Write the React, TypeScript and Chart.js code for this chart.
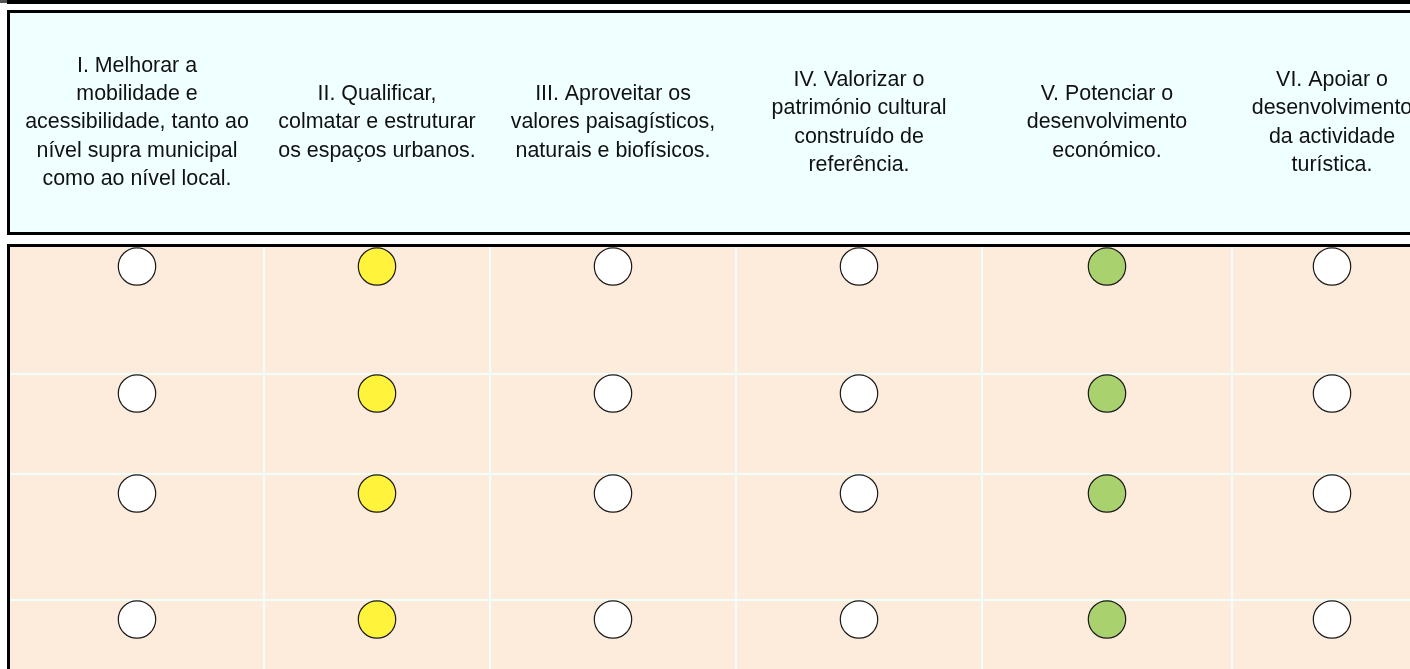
import React, { useEffect, useRef } from 'react';
import { Chart, registerables } from 'chart.js';

Chart.register(...registerables);

// ---------- DATA ----------
// Column categories (strategic objectives), one array of lines per header
const OBJECTIVES: string[][] = [
  ['I. Melhorar a', 'mobilidade e', 'acessibilidade, tanto ao', 'nível supra municipal', 'como ao nível local.'],
  ['II. Qualificar,', 'colmatar e estruturar', 'os espaços urbanos.'],
  ['III. Aproveitar os', 'valores paisagísticos,', 'naturais e biofísicos.'],
  ['IV. Valorizar o', 'património cultural', 'construído de', 'referência.'],
  ['V. Potenciar o', 'desenvolvimento', 'económico.'],
  ['VI. Apoiar o', 'desenvolvimento', 'da actividade', 'turística.'],
];

// Relationship level of each row with each objective (0 = none, 1 = medium, 2 = strong)
const ROW_1 = [0, 1, 0, 0, 2, 0];
const ROW_2 = [0, 1, 0, 0, 2, 0];
const ROW_3 = [0, 1, 0, 0, 2, 0];
const ROW_4 = [0, 1, 0, 0, 2, 0];
const ROWS = [ROW_1, ROW_2, ROW_3, ROW_4];

const LEVEL_NAMES = ['Sem relação', 'Relação média', 'Relação forte'];

// ---------- LAYOUT / STYLE ----------
const COL_WIDTHS = [254, 226, 246, 246, 250, 200];
const ROW_HEIGHTS = [127, 100, 126, 126];
const MARK_OFFSET = 19.5;
const LEVEL_COLORS = ['#FFFFFF', '#FFF33B', '#A9D16E'];
const HEADER_BG = '#F0FFFF';
const BODY_BG = '#FDEBDB';
const GRID_COLOR = '#F0FFFA';
const W = 1410;
const H = 669;
const BODY_TOP = 247;
const LEFT = 10;

const colBounds: number[] = [];
const colCenters: number[] = [];
{
  let acc = 0;
  COL_WIDTHS.forEach((w) => {
    colCenters.push(acc + w / 2);
    acc += w;
    colBounds.push(acc);
  });
}
const rowTops: number[] = [];
const rowBounds: number[] = [];
{
  let acc = 0;
  ROW_HEIGHTS.forEach((h) => {
    rowTops.push(acc);
    acc += h;
    rowBounds.push(acc);
  });
}

const near = (a: number, b: number) => Math.abs(a - b) < 0.01;

const tableFrame = {
  id: 'tableFrame',
  beforeDraw(chart: any) {
    const { ctx, chartArea } = chart;
    ctx.save();
    // top rule
    ctx.fillStyle = '#555555';
    ctx.fillRect(0, 0, 7, 3);
    ctx.fillStyle = '#000000';
    ctx.fillRect(7, 0, W - 7, 4);
    // header box
    ctx.fillStyle = HEADER_BG;
    ctx.fillRect(10, 13, W - 10, 219);
    ctx.strokeStyle = '#000000';
    ctx.lineWidth = 3;
    ctx.beginPath();
    ctx.moveTo(W + 10, 11.5);
    ctx.lineTo(8.5, 11.5);
    ctx.lineTo(8.5, 233.5);
    ctx.lineTo(W + 10, 233.5);
    ctx.stroke();
    // body background
    ctx.fillStyle = BODY_BG;
    ctx.fillRect(chartArea.left, chartArea.top, chartArea.right - chartArea.left, chartArea.bottom - chartArea.top);
    ctx.restore();
  },
  beforeDatasetsDraw(chart: any) {
    const { ctx, chartArea } = chart;
    ctx.save();
    ctx.fillStyle = '#000000';
    ctx.fillRect(7, chartArea.top - 3, W - 7, 3);
    ctx.fillRect(7, chartArea.top - 3, 3, H - chartArea.top + 3);
    ctx.restore();
  },
};

export default function App() {
  const ref = useRef<HTMLCanvasElement | null>(null);

  useEffect(() => {
    if (!ref.current) return;
    const datasets = LEVEL_NAMES.map((name, level) => {
      const pts: { x: number; y: number }[] = [];
      ROWS.forEach((row, r) => {
        row.forEach((v, c) => {
          if (v === level) pts.push({ x: colCenters[c], y: rowTops[r] + MARK_OFFSET });
        });
      });
      return {
        label: name,
        data: pts,
        pointRadius: 18.7,
        pointHoverRadius: 18.7,
        pointBorderWidth: 1.2,
        pointBorderColor: '#1a1a1a',
        pointBackgroundColor: LEVEL_COLORS[level],
        backgroundColor: LEVEL_COLORS[level],
        borderColor: '#1a1a1a',
        showLine: false,
      };
    });

    const chart = new Chart(ref.current, {
      type: 'scatter',
      data: { datasets },
      plugins: [tableFrame],
      options: {
        animation: false,
        responsive: false,
        devicePixelRatio: 1,
        events: [],
        layout: { autoPadding: false, padding: { left: LEFT, right: 0, top: 0, bottom: 0 } },
        plugins: { legend: { display: false }, tooltip: { enabled: false } },
        scales: {
          x: {
            type: 'linear',
            position: 'top',
            min: 0,
            max: W - LEFT,
            border: { display: false },
            grid: {
              drawTicks: false,
              lineWidth: 2,
              color: (ctx: any) =>
                ctx.tick && colBounds.some((b) => near(b, ctx.tick.value)) ? GRID_COLOR : 'rgba(0,0,0,0)',
            },
            afterBuildTicks: (scale: any) => {
              const vals = [...colCenters, ...colBounds.slice(0, -1)].sort((a, b) => a - b);
              scale.ticks = vals.map((v) => ({ value: v }));
            },
            afterFit: (scale: any) => {
              scale.height = BODY_TOP;
              scale.paddingLeft = 0;
              scale.paddingRight = 0;
            },
            ticks: {
              autoSkip: false,
              maxRotation: 0,
              minRotation: 0,
              crossAlign: 'center',
              padding: 68,
              color: '#111111',
              font: { family: '"Liberation Sans", Arial, sans-serif', size: 21.4, lineHeight: 1.32 },
              callback: (value: any) => {
                const i = colCenters.findIndex((c) => near(c, Number(value)));
                return i >= 0 ? OBJECTIVES[i] : '';
              },
            },
          },
          y: {
            type: 'linear',
            reverse: true,
            min: 0,
            max: H - BODY_TOP,
            border: { display: false },
            grid: { drawTicks: false, lineWidth: 2, color: GRID_COLOR },
            afterBuildTicks: (scale: any) => {
              scale.ticks = rowBounds.slice(0, -1).map((v) => ({ value: v }));
            },
            afterFit: (scale: any) => {
              scale.width = 0;
            },
            ticks: { display: false },
          },
        },
      } as any,
    });
    return () => chart.destroy();
  }, []);

  return (
    <div style={{ position: 'absolute', left: 0, top: 0, width: W, height: H, overflow: 'hidden', background: '#fff' }}>
      <canvas ref={ref} width={W} height={H} style={{ display: 'block', width: W, height: H }} />
    </div>
  );
}
